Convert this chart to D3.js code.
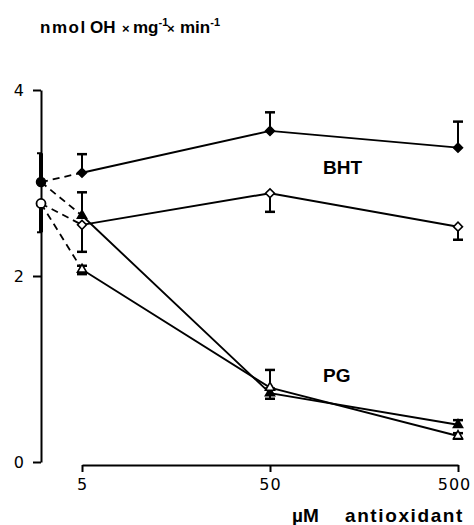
<!DOCTYPE html>
<html>
<head>
<meta charset="utf-8">
<script src="https://cdn.jsdelivr.net/npm/d3@7"></script>
<style>
  body { margin: 0; background: #fff; }
  text { fill: #000; }
</style>
</head>
<body>
<div id="chart"></div>
<script>
// --------------- Data ---------------
const DOSES = [5, 50, 500];
const Y_TICKS = [0, 2, 4];

// control values (no antioxidant), drawn on the y axis
const controlFilled = { value: 3.01, errUp: 0.31, errDown: 0 };
const controlOpen = { value: 2.78, errUp: 0, errDown: 0.31 };

// BHT
const bhtFilled = [3.11, 3.56, 3.38];
const bhtFilledErrUp = [0.2, 0.2, 0.28];
const bhtOpen = [2.55, 2.89, 2.53];
const bhtOpenErrDown = [0.29, 0.2, 0.14];

// PG
const pgFilled = [2.65, 0.74, 0.4];
const pgFilledErrUp = [0.25, 0.05, 0.05];
const pgOpen = [2.07, 0.8, 0.28];
const pgOpenErrUp = [0.04, 0.19, 0.03];
const pgOpenErrDown = [0.05, 0.12, 0.03];

// --------------- Constants ---------------
const WIDTH = 474;
const HEIGHT = 525;
const AXIS_X = 41;
const AXIS_Y = 465;
const CAP = 5;
const LABEL_FONT = "'Liberation Sans', Arial, sans-serif";

const svg = d3
  .select("#chart")
  .append("svg")
  .attr("width", WIDTH)
  .attr("height", HEIGHT);

const x = d3.scaleLog().domain([5, 500]).range([82, 458]);
const y = d3.scaleLinear().domain([0, 4]).range([462, 90]);

// --------------- Axes ---------------
const yAxis = svg
  .append("g")
  .attr("transform", `translate(${AXIS_X},0)`)
  .call(d3.axisLeft(y).tickValues(Y_TICKS).tickSize(8).tickSizeOuter(0).tickFormat(d3.format("d")));
yAxis.select(".domain").attr("stroke-width", 2);
yAxis.selectAll(".tick line").attr("stroke-width", 2);
yAxis
  .selectAll(".tick text")
  .attr("x", -17)
  .attr("font-size", 16)
  .attr("font-family", "DejaVu Sans");

const xAxis = svg
  .append("g")
  .attr("transform", `translate(0,${AXIS_Y})`)
  .call(d3.axisBottom(x).tickValues(DOSES).tickSize(7).tickSizeOuter(0).tickFormat(d3.format("d")));
xAxis.select(".domain").attr("stroke-width", 2);
xAxis.selectAll(".tick line").attr("stroke-width", 2);
xAxis
  .selectAll(".tick text")
  .attr("y", 14)
  .attr("font-size", 16)
  .attr("letter-spacing", 1)
  .attr("font-family", "DejaVu Sans");
// last label sits a little left, as in the print
xAxis.selectAll(".tick text").filter((d) => d === 500).attr("dx", -4);

// y title
const title = svg
  .append("text")
  .attr("y", 33)
  .attr("font-size", 17)
  .attr("font-family", LABEL_FONT)
  .attr("font-weight", "bold");
title.append("tspan").attr("x", 40).attr("letter-spacing", 1.5).text("nmol");
title.append("tspan").attr("x", 90).text("OH");
title.append("tspan").attr("x", 122).attr("font-size", 13).text("×");
title.append("tspan").attr("x", 133).text("mg");
title.append("tspan").attr("font-size", 11).attr("dy", -7).text("-1");
title.append("tspan").attr("x", 167).attr("font-size", 13).attr("dy", 7).text("×");
title.append("tspan").attr("x", 180).text("min");
title.append("tspan").attr("font-size", 11).attr("dy", -7).text("-1");

// x title
const xTitle = svg
  .append("text")
  .attr("y", 522)
  .attr("font-size", 19)
  .attr("font-family", LABEL_FONT)
  .attr("font-weight", "bold");
xTitle.append("tspan").attr("x", 292).text("µM");
xTitle.append("tspan").attr("x", 345).attr("letter-spacing", 1.6).text("antioxidant");

// series labels
svg.append("text").attr("x", 323).attr("y", 174).attr("font-size", 19)
  .attr("font-family", LABEL_FONT).attr("font-weight", "bold").text("BHT");
svg.append("text").attr("x", 323).attr("y", 382).attr("font-size", 19)
  .attr("font-family", LABEL_FONT).attr("font-weight", "bold").text("PG");

// --------------- Error bars ---------------
const errorBar = (cx, v, up, down) => {
  const top = y(v + up);
  const bot = y(v - down);
  svg.append("line").attr("x1", cx).attr("x2", cx).attr("y1", top).attr("y2", bot).attr("stroke", "#000").attr("stroke-width", 2);
  if (up > 0) {
    svg.append("line").attr("x1", cx - CAP).attr("x2", cx + CAP).attr("y1", top).attr("y2", top).attr("stroke", "#000").attr("stroke-width", 2.5);
  }
  if (down > 0) {
    svg.append("line").attr("x1", cx - CAP).attr("x2", cx + CAP).attr("y1", bot).attr("y2", bot).attr("stroke", "#000").attr("stroke-width", 2.5);
  }
};

// control error bars (thick, on the axis)
svg.append("line").attr("x1", AXIS_X).attr("x2", AXIS_X)
  .attr("y1", y(controlFilled.value + controlFilled.errUp)).attr("y2", y(controlFilled.value))
  .attr("stroke", "#000").attr("stroke-width", 4);
svg.append("line").attr("x1", AXIS_X - 4).attr("x2", AXIS_X + 1)
  .attr("y1", y(controlFilled.value + controlFilled.errUp)).attr("y2", y(controlFilled.value + controlFilled.errUp))
  .attr("stroke", "#000").attr("stroke-width", 2);
svg.append("line").attr("x1", AXIS_X).attr("x2", AXIS_X)
  .attr("y1", y(controlOpen.value)).attr("y2", y(controlOpen.value - controlOpen.errDown))
  .attr("stroke", "#000").attr("stroke-width", 4);
svg.append("line").attr("x1", AXIS_X - 4).attr("x2", AXIS_X + 1)
  .attr("y1", y(controlOpen.value - controlOpen.errDown)).attr("y2", y(controlOpen.value - controlOpen.errDown))
  .attr("stroke", "#000").attr("stroke-width", 2);

DOSES.forEach((d, i) => {
  errorBar(x(d), bhtFilled[i], bhtFilledErrUp[i], 0);
  errorBar(x(d), bhtOpen[i], 0, bhtOpenErrDown[i]);
  errorBar(x(d), pgFilled[i], pgFilledErrUp[i], 0);
  errorBar(x(d), pgOpen[i], pgOpenErrUp[i], pgOpenErrDown[i]);
});

// --------------- Dashed links from control ---------------
const dash = (c, v) => {
  svg.append("line")
    .attr("x1", AXIS_X).attr("y1", y(c.value))
    .attr("x2", x(DOSES[0])).attr("y2", y(v))
    .attr("stroke", "#000").attr("stroke-width", 1.8)
    .attr("stroke-dasharray", "7,5");
};
dash(controlFilled, bhtFilled[0]);
dash(controlFilled, pgFilled[0]);
dash(controlOpen, bhtOpen[0]);
dash(controlOpen, pgOpen[0]);

// --------------- Lines ---------------
const line = d3.line().x((d, i) => x(DOSES[i])).y((d) => y(d));
[bhtFilled, bhtOpen, pgFilled, pgOpen].forEach((s) => {
  svg.append("path").attr("d", line(s)).attr("fill", "none").attr("stroke", "#000").attr("stroke-width", 1.9);
});

// --------------- Markers ---------------
// square turned 45 deg reads like the printed diamond
const diamond = d3.symbol().type(d3.symbolSquare).size(40);
const triangle = d3.symbol().type(d3.symbolTriangle).size(36);

const drawMarkers = (values, sym, filled, rotate) => {
  values.forEach((v, i) => {
    svg.append("path")
      .attr("d", sym())
      .attr("transform", `translate(${x(DOSES[i])},${y(v)}) rotate(${rotate})`)
      .attr("fill", filled ? "#000" : "#fff")
      .attr("stroke", "#000")
      .attr("stroke-width", 1.6);
  });
};
drawMarkers(bhtFilled, diamond, true, 45);
drawMarkers(bhtOpen, diamond, false, 45);
drawMarkers(pgFilled, triangle, true, 0);
drawMarkers(pgOpen, triangle, false, 0);

// control circles
svg.append("circle").attr("cx", AXIS_X).attr("cy", y(controlFilled.value)).attr("r", 4.5)
  .attr("fill", "#000").attr("stroke", "#000").attr("stroke-width", 1.5);
svg.append("circle").attr("cx", AXIS_X).attr("cy", y(controlOpen.value)).attr("r", 4.5)
  .attr("fill", "#fff").attr("stroke", "#000").attr("stroke-width", 1.8);
</script>
</body>
</html>
